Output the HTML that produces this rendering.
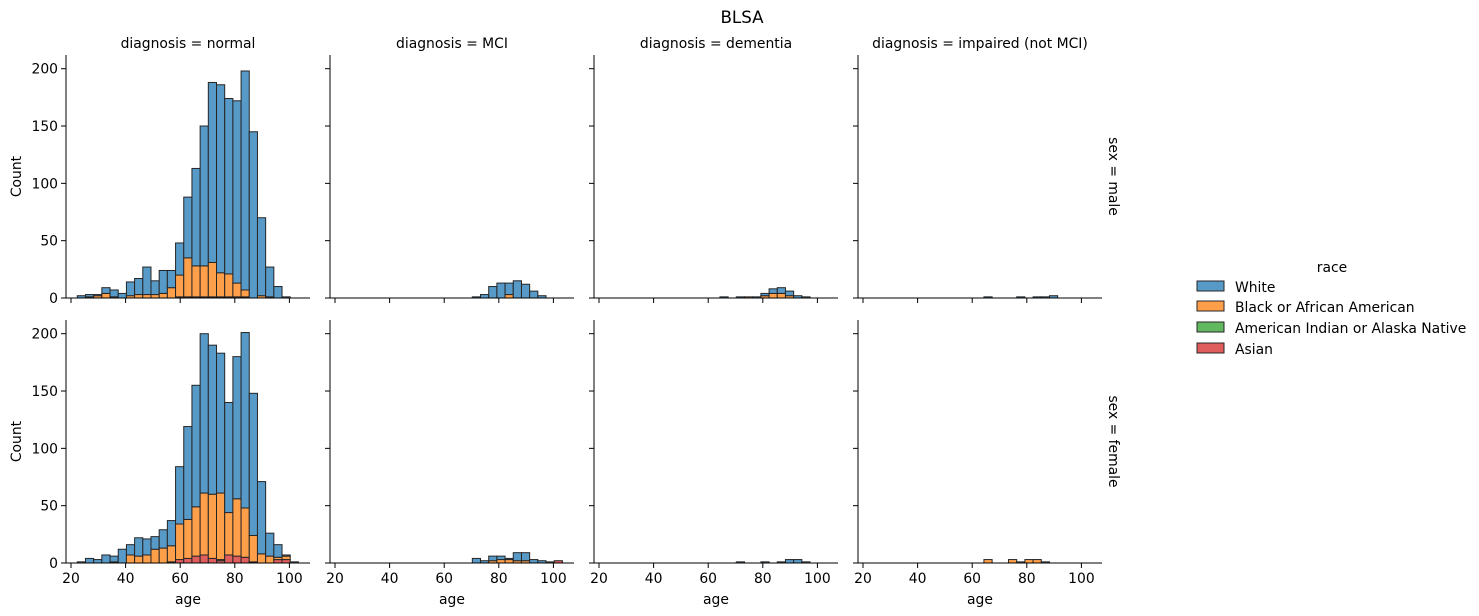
<!DOCTYPE html>
<html><head><meta charset="utf-8"><style>
body{margin:0;background:#fff;}
svg{display:block;font-family:"DejaVu Sans","Liberation Sans",sans-serif;}
</style></head><body>
<svg id="chart" width="1479" height="616" viewBox="0 0 1479 616" xmlns="http://www.w3.org/2000/svg">
<text x="742" y="23" font-size="16.7" text-anchor="middle" fill="#000">BLSA</text>
<g id="panels"></g>
<g>
<text x="1332" y="272" font-size="13.9" text-anchor="middle">race</text>
<rect x="1197" y="281" width="27" height="10" fill="#5799c7" stroke="#262626"/>
<text x="1235" y="292" font-size="13.9">White</text>
<rect x="1197" y="301" width="27" height="10" fill="#ff9f4a" stroke="#262626"/>
<text x="1235" y="312" font-size="13.9">Black or African American</text>
<rect x="1197" y="322" width="27" height="10" fill="#61b861" stroke="#262626"/>
<text x="1235" y="333" font-size="13.9">American Indian or Alaska Native</text>
<rect x="1197" y="343" width="27" height="10" fill="#e05d5e" stroke="#262626"/>
<text x="1235" y="354" font-size="13.9">Asian</text>
</g>
</svg>
<script>
const diagnoses = ["normal","MCI","dementia","impaired (not MCI)"];
const sexes = ["male","female"];
const races = ["White","Black or African American","American Indian or Alaska Native","Asian"];
const binStart = 22.3, binWidth = 3.0;
const xTicks = [20,40,60,80,100];
const yTicks = [0,50,100,150,200];
function z(){return new Array(27).fill(0);}
function sp(o){const a=z();for(const k in o)a[k]=o[k];return a;}
const maleNormalWhite = [2,2,1,5,6,4,12,14,24,12,20,15,28,53,85,122,157,164,153,159,191,145,68,26,10,1,0];
const maleNormalBlack = [0,1,2,4,1,0,2,3,3,3,4,9,19,34,27,27,30,21,20,12,6,0,2,1,0,0,0];
const maleNormalAmind = z();
const maleNormalAsian = [0,0,0,0,0,0,0,0,0,0,0,0,1,1,1,1,1,1,1,1,1,0,0,0,0,0,0];
const maleMciWhite = sp({16:1,17:3,18:10,19:13,20:10,21:15,22:12,23:6,24:2});
const maleMciBlack = sp({20:3});
const maleDemWhite = sp({14:1,16:1,18:1,19:2,20:4,21:5,22:4,23:2,24:1});
const maleDemBlack = sp({17:1,19:2,20:4,21:4,22:2});
const maleImpWhite = sp({14:1,18:1,20:1,21:1,22:2});
const femaleNormalWhite = [1,4,3,7,5,12,9,16,14,11,16,22,50,81,106,139,130,122,96,124,153,124,63,20,11,1,1];
const femaleNormalBlack = sp({4:1,6:7,7:6,8:7,9:12,10:13,11:14,12:31,13:34,14:43,15:54,16:56,17:58,18:37,19:50,20:43,21:23,22:8,23:6,24:2,25:3});
const femaleNormalAmind = sp({11:1,17:1});
const femaleNormalAsian = sp({12:3,13:4,14:6,15:7,16:4,17:2,18:7,19:6,20:5,21:1,24:3,25:3});
const femaleMciWhite = sp({16:4,17:2,18:4,19:3,20:1,21:7,22:7,23:3,24:2,25:1});
const femaleMciBlack = sp({18:2,19:3,20:3,21:2,22:2});
const femaleMciAsian = sp({26:2});
const femaleDemWhite = sp({16:1,19:1,21:1,22:3,23:3,24:1});
const femaleImpWhite = sp({18:1,21:1});
const femaleImpBlack = sp({14:3,17:3,19:3,20:3});

const facets = [
 [ [maleNormalWhite,maleNormalBlack,maleNormalAmind,maleNormalAsian],[maleMciWhite,maleMciBlack,z(),z()],[maleDemWhite,maleDemBlack,z(),z()],[maleImpWhite,z(),z(),z()] ],
 [ [femaleNormalWhite,femaleNormalBlack,femaleNormalAmind,femaleNormalAsian],[femaleMciWhite,femaleMciBlack,z(),femaleMciAsian],[femaleDemWhite,z(),z(),z()],[femaleImpWhite,femaleImpBlack,z(),z()] ]
];
const colors = ["#5799c7","#ff9f4a","#61b861","#e05d5e"];
const raceKeys = ["white","black","amind","asian"];
const NS="http://www.w3.org/2000/svg";
const root=document.getElementById("panels");
function el(t,a,p){const e=document.createElementNS(NS,t);for(const k in a)e.setAttribute(k,a[k]);(p||root).appendChild(e);return e;}
const panelX0=66, panelPitch=264, panelW=244;
const rowTop=[55,320], panelH=243;
const pxPerYear=2.73, countPx=1.1465;
const FS=13.9;
for(let r=0;r<2;r++){
 for(let c=0;c<4;c++){
  const x0=panelX0+c*panelPitch, yb=rowTop[r]+panelH;
  const xs=v=>x0+5+(v-20)*pxPerYear;
  const ys=v=>yb-v*countPx;
  const g=el("g",{});
  
  
  const data=facets[r][c];
  for(let b=0;b<27;b++){
   let acc=0;
   for(let s=3;s>=0;s--){
    const v=data[s][b]; if(!v)continue;
    const a=binStart+b*binWidth;
    const rect=el("rect",{x:xs(a),y:ys(acc+v),width:binWidth*pxPerYear,height:v*countPx,fill:colors[s],stroke:"#262626","stroke-width":1},g);
    
    
    acc+=v;
   }
  }
  const ax=el("line",{x1:x0,y1:rowTop[r],x2:x0,y2:yb,stroke:"#000","stroke-width":1},g);
  
  
  const bx=el("line",{x1:x0,y1:yb,x2:x0+panelW,y2:yb,stroke:"#000","stroke-width":1},g);
  
  
  for(const t of yTicks){
   el("line",{x1:x0-5,y1:ys(t),x2:x0,y2:ys(t),stroke:"#000"},g);
   if(c===0){const tx=el("text",{x:x0-8,y:ys(t)+5,"font-size":FS,"text-anchor":"end"},g);tx.textContent=t;
    
    }
  }
  for(const t of xTicks){
   el("line",{x1:xs(t),y1:yb,x2:xs(t),y2:yb+5,stroke:"#000"},g);
   if(r===1){const tx=el("text",{x:xs(t),y:yb+20,"font-size":FS,"text-anchor":"middle"},g);tx.textContent=t;
    
    }
  }
  if(r===0){const tt=el("text",{x:x0+panelW/2,y:48,"font-size":FS,"text-anchor":"middle"},g);tt.textContent="diagnosis = "+diagnoses[c];
   
   }
  if(r===1){const xl=el("text",{x:x0+panelW/2,y:604,"font-size":FS,"text-anchor":"middle"},g);xl.textContent="age";
   
   }
  if(c===0){const cy=rowTop[r]+panelH/2;const yl=el("text",{x:21,y:cy,"font-size":FS,"text-anchor":"middle",transform:"rotate(-90 21 "+cy+")"},g);yl.textContent="Count";
   
   }
  if(c===3){const cy=rowTop[r]+panelH/2;const rl=el("text",{x:1109,y:cy,"font-size":FS,"text-anchor":"middle",transform:"rotate(90 1109 "+cy+")"},g);rl.textContent="sex = "+sexes[r];
   
   }
 }
}
</script>
</body></html>
